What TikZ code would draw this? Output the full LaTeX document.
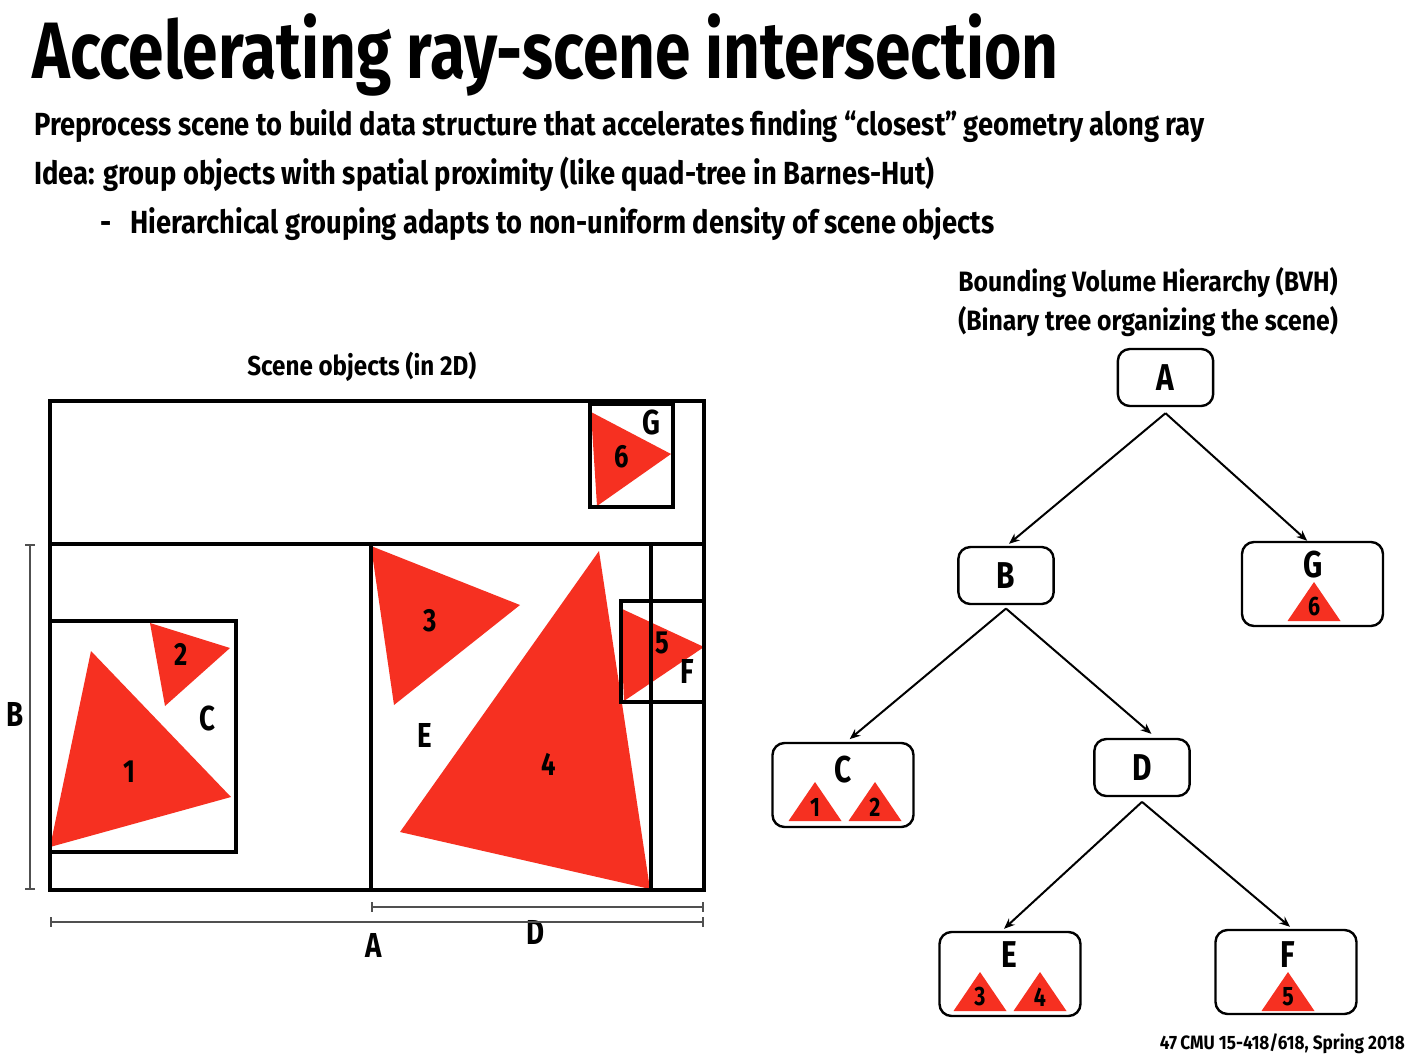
\documentclass[tikz,border=0pt]{standalone}
\usepackage{fontspec}
\setmainfont[FakeStretch=0.80]{Fira Sans}
\newfontfamily\titlefont[FakeStretch=0.80]{Fira Sans}
\newfontfamily\bodyfont[FakeStretch=0.855]{Fira Sans}
\newfontfamily\capfont[FakeStretch=0.885]{Fira Sans}
\newfontfamily\footfont[FakeStretch=0.89]{Fira Sans}
\usetikzlibrary{arrows.meta}
\definecolor{trired}{RGB}{246,48,33}
\definecolor{dimgray}{RGB}{80,80,80}
\newcommand\fsz[1]{\fontsize{#1}{#1}\selectfont\bfseries}
% small triangle inside a BVH leaf: base centre (#1,#2), number #3
\newcommand\leaftri[3]{%
  \fill[trired] (#1-26.5,#2) -- (#1+26.5,#2) -- (#1,#2-39) -- cycle;
  \node[tnum] at (#1,#2-14) {#3};}
\tikzset{
  txt/.style={inner sep=0pt, anchor=base west, text=black},
  scenebox/.style={draw=black, line width=2.5pt},
  dimline/.style={draw=dimgray, line width=1.6pt, {Bar[width=7pt]}-{Bar[width=7pt]}},
  slabel/.style={inner sep=0pt, font=\fsz{26pt}},
  snum/.style={inner sep=0pt, font=\fsz{24pt}},
  tnode/.style={draw=black, line width=1.8pt, rounded corners=9pt, inner sep=0pt,
     font=\fsz{28pt}},
  tsmall/.style={tnode, minimum width=71.5pt, minimum height=42.75pt},
  tbig/.style={draw=black, line width=1.8pt, rounded corners=9pt, inner sep=0pt,
     minimum width=105.75pt, minimum height=63pt},
  tletter/.style={inner sep=0pt, font=\fsz{28pt}},
  tnum/.style={inner sep=0pt, font=\fsz{20pt}},
  arr/.style={draw=black, line width=1.5pt, -{Stealth[length=8pt,width=6.5pt]}}
}
\begin{document}
\begin{tikzpicture}[x=0.75pt,y=-0.75pt]
\useasboundingbox[fill=white] (0,0) rectangle (1413,1060);

% ---- heading and bullet lines ----
\node[txt, font=\titlefont\fsz{60pt}] (title) at (32,78) {Accelerating ray-scene intersection};
\node[txt, font=\bodyfont\fsz{24pt}] (l1) at (34,135) {Preprocess scene to build data structure that accelerates finding “closest” geometry along ray};
\node[txt, font=\bodyfont\fsz{24pt}] (l2) at (34,184) {Idea: group objects with spatial proximity (like quad-tree in Barnes-Hut)};
\node[txt, font=\bodyfont\fsz{24pt}] (dash) at (100,233) {-};
\node[txt, font=\bodyfont\fsz{24pt}] (l3) at (130,233) {Hierarchical grouping adapts to non-uniform density of scene objects};

% ---- captions ----
\node[txt, font=\capfont\fsz{21pt}] (bvh1) at (958,291) {Bounding Volume Hierarchy (BVH)};
\node[txt, font=\capfont\fsz{21pt}] (bvh2) at (958,330) {(Binary tree organizing the scene)};
\node[txt, font=\capfont\fsz{20.5pt}] (scap) at (247,375) {Scene objects (in 2D)};

% ---- scene objects ----
% triangles
\fill[trired] (591,412) -- (671,454) -- (597,506) -- cycle;   % 6
\fill[trired] (91,651) -- (231,797) -- (50,847) -- cycle;     % 1
\fill[trired] (150,623) -- (230,648) -- (165,706) -- cycle;   % 2
\fill[trired] (371,546) -- (520,605) -- (394,705) -- cycle;   % 3
\fill[trired] (599,551) -- (650,889) -- (400,832) -- cycle;   % 4
\fill[trired] (620,608) -- (704,647) -- (624,701) -- cycle;   % 5
% bounding volumes
\draw[scenebox] (50,401) rectangle (704,544);
\draw[scenebox] (50,544) rectangle (704,890);
\draw[scenebox] (590,404) rectangle (673,507);
\draw[scenebox] (50,621) rectangle (236,852);
\draw[scenebox] (371,544) -- (371,890);
\draw[scenebox] (651,544) -- (651,890);
\draw[scenebox] (621,601) rectangle (704,702);
% labels
\node[snum] (n6) at (622,457) {6};
\node[slabel] (sG) at (651,422) {G};
\node[snum] (n1) at (129,772) {1};
\node[snum] (n2) at (181,654) {2};
\node[slabel] (sC) at (207,718) {C};
\node[snum] (n3) at (430,621) {3};
\node[snum] (n4) at (549,764) {4};
\node[slabel] (sE) at (425,735) {E};
\node[snum] (n5) at (662,643) {5};
\node[slabel] (sF) at (687,671) {F};
% extents
\draw[dimline] (30,544) -- (30,890);
\node[slabel] (sB) at (15,714) {B};
\draw[dimline] (371,907) -- (704,907);
\node[slabel] (sD) at (536,932) {D};
\draw[dimline] (50,922) -- (704,922);
\node[slabel] (sA) at (374,945) {A};

% ---- BVH tree ----
\node[tsmall] (A) at (1165.5,377.5) {A};
\node[tsmall] (B) at (1006,575.5) {B};
\node[tsmall] (D) at (1142,767.5) {D};
\node[tbig] (G) at (1312.5,584) {};
\node[tbig] (C) at (843,785) {};
\node[tbig] (E) at (1010,974) {};
\node[tbig] (F) at (1286,972) {};

\node[tletter] (Gl) at (1313,565) {G};
\leaftri{1314}{621}{6}
\node[tletter] (Cl) at (843,770) {C};
\leaftri{815}{821}{1}
\leaftri{875}{821}{2}
\node[tletter] (El) at (1009,955) {E};
\leaftri{980}{1011}{3}
\leaftri{1040}{1011}{4}
\node[tletter] (Fl) at (1288,955) {F};
\leaftri{1288}{1011}{5}

\draw[arr] ([yshift=-4.5pt]A.south) -- ([xshift=2.25pt,yshift=1.5pt]B.north);
\draw[arr] ([yshift=-4.5pt]A.south) -- ([xshift=-4pt]G.north);
\draw[arr] ([yshift=-2.5pt]B.south) -- ([xshift=5pt,yshift=2pt]C.north);
\draw[arr] ([yshift=-2.5pt]B.south) -- ([xshift=7pt,yshift=3pt]D.north);
\draw[arr] ([yshift=-3.5pt]D.south) -- ([xshift=-4.5pt,yshift=1.5pt]E.north);
\draw[arr] ([yshift=-3.5pt]D.south) -- ([xshift=3pt,yshift=1.5pt]F.north);

% ---- footer ----
\node[inner sep=0pt, anchor=base east, font=\footfont\fsz{14.5pt}] (foot) at (1405,1049) {47\,CMU 15-418/618, Spring 2018};
\end{tikzpicture}
\end{document}
